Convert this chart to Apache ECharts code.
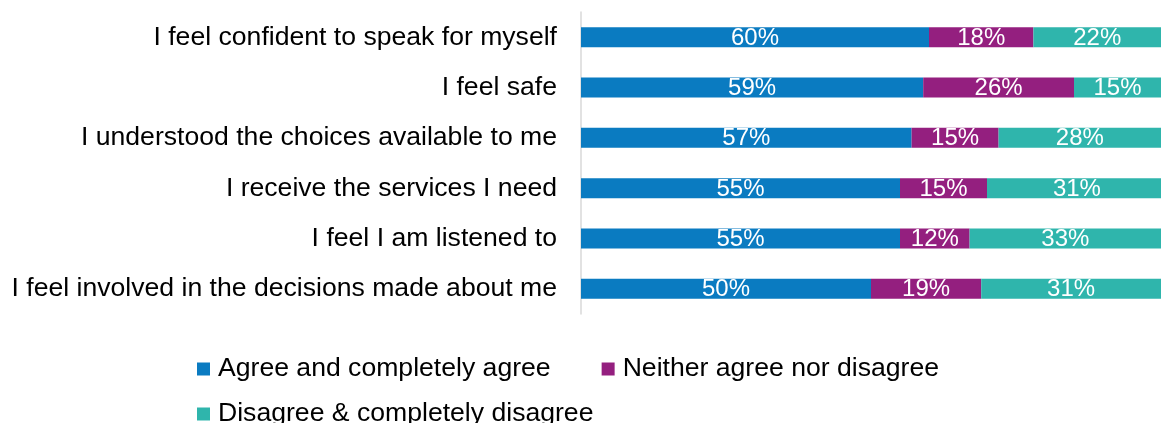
<!DOCTYPE html>
<html>
<head>
<meta charset="utf-8">
<script src="https://cdn.jsdelivr.net/npm/echarts@6/dist/echarts.min.js"></script>
<style>
html,body{margin:0;padding:0;background:#fff;}
#chart{width:1161px;height:423px;}
</style>
</head>
<body>
<div id="chart"></div>
<script>
const categories = [
  "I feel confident to speak for myself",
  "I feel safe",
  "I understood the choices available to me",
  "I receive the services I need",
  "I feel I am listened to",
  "I feel involved in the decisions made about me"
];
const seriesNames = [
  "Agree and completely agree",
  "Neither agree nor disagree",
  "Disagree & completely disagree"
];
const agree = [60, 59, 57, 55, 55, 50];
const neither = [18, 26, 15, 15, 12, 19];
const disagree = [22, 15, 28, 31, 33, 31];

const colors = ['#0a7bc1', '#941f7f', '#2fb5ac'];
const FONT = "'Liberation Sans', Arial, sans-serif";

const chart = echarts.init(document.getElementById('chart'), null, {renderer: 'canvas'});

function barSeries(name, data, color) {
  return {
    name: name,
    type: 'bar',
    stack: 'total',
    data: data,
    barWidth: 20,
    clip: false,
    itemStyle: {color: color},
    label: {
      show: true,
      position: 'inside',
      formatter: '{c}%',
      color: '#ffffff',
      fontSize: 24,
      fontFamily: FONT,
      offset: [0, 1]
    },
    emphasis: {disabled: true}
  };
}

const legendText = {fontSize: 26.6, fontFamily: FONT, color: '#000000', lineHeight: 26, padding: [0, 0, 0, 3]};

chart.setOption({
  animation: false,
  backgroundColor: '#ffffff',
  grid: {left: 581, right: 0, top: 12, bottom: 109, containLabel: false},
  xAxis: {
    type: 'value',
    min: 0,
    max: 100,
    show: false,
    splitLine: {show: false}
  },
  yAxis: {
    type: 'category',
    inverse: true,
    data: categories,
    axisLine: {show: true, lineStyle: {color: '#d9d9d9', width: 1.5}},
    axisTick: {show: false},
    splitLine: {show: false},
    axisLabel: {
      color: '#000000',
      fontSize: 26.6,
      fontFamily: FONT,
      margin: 24
    }
  },
  legend: [
    {
      data: [seriesNames[0], seriesNames[1]],
      left: 197,
      top: 355.5,
      padding: 0,
      orient: 'horizontal',
      icon: 'rect',
      itemWidth: 13,
      itemHeight: 13,
      itemGap: 51,
      selectedMode: false,
      textStyle: legendText
    },
    {
      data: [seriesNames[2]],
      left: 197,
      top: 400.5,
      padding: 0,
      orient: 'horizontal',
      icon: 'rect',
      itemWidth: 13,
      itemHeight: 13,
      selectedMode: false,
      textStyle: legendText
    }
  ],
  series: [
    barSeries(seriesNames[0], agree, colors[0]),
    barSeries(seriesNames[1], neither, colors[1]),
    barSeries(seriesNames[2], disagree, colors[2])
  ]
});
</script>
</body>
</html>
